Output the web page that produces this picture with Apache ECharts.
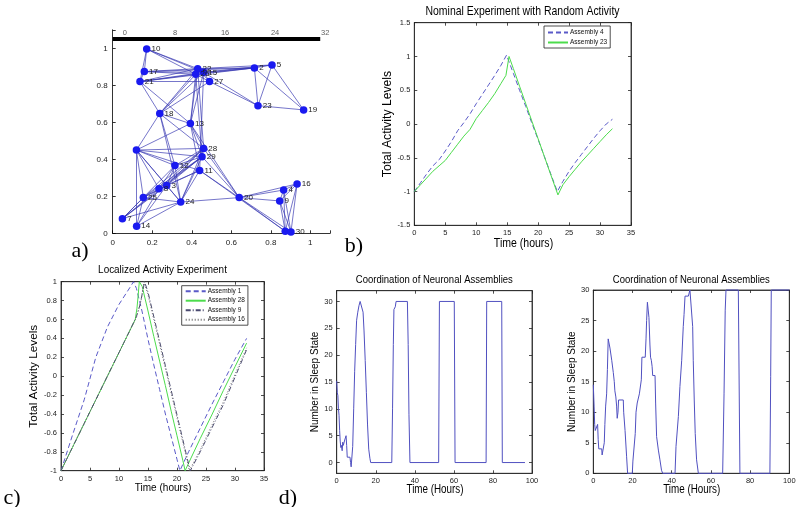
<!DOCTYPE html>
<html><head><meta charset="utf-8">
<script src="https://cdn.jsdelivr.net/npm/echarts@6/dist/echarts.min.js"></script>
<style>html,body{margin:0;padding:0;background:#fff}#c{width:800px;height:507px}</style>
</head><body><div id="c"></div><script>
// ---------- Panel a: network ----------
const nodeIds = ['1','2','3','4','5','6','7','8','9','10','11','12','13','14','15','16','17','18','19','20','21','22','23','24','25','26','27','28','29','30'];
const nodeX = [0.12,0.717,0.273,0.865,0.806,0.873,0.049,0.234,0.845,0.172,0.44,0.315,0.393,0.121,0.46,0.933,0.16,0.238,0.966,0.64,0.138,0.43,0.735,0.344,0.155,0.42,0.49,0.46,0.452,0.902];
const nodeY = [0.45,0.894,0.258,0.234,0.91,0.011,0.079,0.241,0.175,0.996,0.34,0.366,0.593,0.038,0.87,0.267,0.874,0.647,0.667,0.193,0.82,0.89,0.69,0.169,0.193,0.86,0.82,0.459,0.414,0.007];
const hiddenLabels = ['1','6'];
const edgeList = [
 [10,22],[10,26],[10,15],[10,17],[10,21],[17,22],[17,26],[17,15],[17,2],[17,21],
 [21,22],[21,26],[21,15],[21,2],[21,27],[22,2],[15,2],[26,2],[22,5],[15,5],[2,5],
 [2,23],[5,23],[5,19],[2,19],[23,19],[27,23],[22,23],[26,27],[15,27],[22,27],
 [18,22],[18,26],[18,15],[18,27],[18,21],[18,13],[18,12],[18,1],[18,28],[18,24],
 [13,26],[13,22],[13,15],[13,1],[13,28],[13,29],[13,11],[21,13],[26,29],[22,28],[15,11],
 [1,28],[1,29],[1,12],[1,11],[1,25],[1,8],[1,24],[1,3],[1,14],
 [28,29],[28,12],[29,12],[28,3],[29,3],[29,8],[28,8],[11,3],[11,8],[12,8],[12,3],[12,24],
 [28,24],[29,24],[11,24],[29,25],[28,25],[3,25],[8,25],[8,7],[3,7],[12,7],[29,7],[25,7],
 [25,14],[24,14],[24,7],[8,14],[3,14],[25,24],[3,24],
 [28,20],[29,20],[11,20],[13,20],[11,6],[24,20],[20,6],[20,30],[20,4],[20,16],[20,9],
 [4,16],[4,9],[4,6],[4,30],[16,6],[16,30],[16,9],[9,6],[9,30],[6,30]
];
const scaleBarSpan = [0, 1.05];
const scaleBarY = 1.05;
const scaleBarTicks = [0, 8, 16, 24, 32];

// ---------- Panel b ----------
const bAssembly4 = [[0,-1],[1,-0.87],[2,-0.74],[3,-0.62],[4,-0.53],[5,-0.4],[6,-0.26],[7,-0.1],[8,0.02],[9,0.15],[10,0.3],[11,0.44],[12,0.58],[13,0.72],[14,0.87],[14.9,1.02],[16,0.75],[17,0.5],[18,0.26],[19,0.01],[20,-0.23],[21,-0.48],[22,-0.73],[23.1,-1.0],[24,-0.85],[25,-0.7],[26,-0.57],[27,-0.45],[28,-0.33],[29,-0.21],[30,-0.1],[31,0.0],[32,0.07]];
const bAssembly23 = [[0,-1],[1,-0.9],[2,-0.8],[3,-0.7],[4,-0.62],[5,-0.54],[6,-0.42],[7,-0.3],[8,-0.18],[9,-0.08],[10,0.08],[11,0.2],[12,0.32],[13,0.45],[14,0.6],[14.8,0.72],[15.3,1.0],[16,0.82],[17,0.56],[18,0.3],[19,0.04],[20,-0.22],[21,-0.48],[22,-0.74],[23.2,-1.05],[24,-0.9],[25,-0.78],[26,-0.67],[27,-0.56],[28,-0.46],[29,-0.36],[30,-0.26],[31,-0.16],[32,-0.07]];

// ---------- Panel c ----------
const cAssembly1 = [[0,-1],[2,-0.62],[4,-0.25],[6,0.2],[8,0.52],[10,0.76],[12,0.95],[12.5,1.0],[13,0.93],[14,0.68],[15,0.39],[16,0.12],[17,-0.14],[18,-0.4],[19,-0.64],[20,-0.88],[20.5,-1.0],[22,-0.8],[24,-0.55],[26,-0.3],[28,-0.06],[30,0.18],[32,0.4]];
const cAssembly28 = [[0,-1],[2,-0.75],[4,-0.5],[6,-0.25],[8,0.0],[10,0.25],[12,0.5],[12.8,0.6],[13.1,0.72],[13.3,0.85],[13.5,1.0],[14,0.95],[15,0.69],[16,0.42],[17,0.16],[18,-0.1],[19,-0.37],[20,-0.63],[21,-0.89],[21.4,-1.0],[22,-0.92],[24,-0.66],[26,-0.41],[28,-0.15],[30,0.1],[32,0.35]];
const cAssembly9 = [[0,-1],[2,-0.75],[4,-0.5],[6,-0.25],[8,0.0],[10,0.25],[12,0.5],[13,0.63],[13.6,0.75],[14.1,0.9],[14.4,1.0],[15,0.89],[16,0.63],[17,0.37],[18,0.11],[19,-0.15],[20,-0.41],[21,-0.67],[22,-0.93],[22.3,-1.0],[24,-0.8],[26,-0.55],[28,-0.3],[30,-0.01],[32,0.28]];
const cAssembly16 = [[0,-1],[2,-0.75],[4,-0.5],[6,-0.25],[8,0.0],[10,0.25],[12,0.5],[13,0.62],[13.8,0.8],[14.3,1.0],[15,0.86],[16,0.6],[17,0.34],[18,0.08],[19,-0.18],[20,-0.44],[21,-0.7],[22,-0.96],[22.1,-1.0],[24,-0.78],[26,-0.52],[28,-0.27],[30,0.02],[32,0.3]];

// ---------- Panel d ----------
const dLeft = [[0,15.2],[0.3,13],[0.6,12.5],[0.9,10],[1.2,8.8],[1.5,6],[1.8,4],[2.1,2.8],[2.4,3.2],[2.8,2.2],[3.1,3.8],[3.4,3.2],[3.8,3],[4.1,4.2],[4.5,4],[4.8,5],[5.1,3.2],[5.4,1],[6.8,1],[7.1,0],[7.4,-0.8],[7.8,-0.6],[8.2,3],[8.7,10],[9.2,17],[9.7,22],[10.2,26.5],[10.8,28],[11.4,29.2],[12,30],[13,30],[13.5,28],[14,24.5],[14.6,19],[15.2,13],[15.8,7],[16.4,2.5],[17,0.8],[17.4,0],[28.2,0],[28.6,10],[29,22],[29.3,28.5],[30,29],[30.4,30],[36.2,30],[36.6,22],[37,9],[37.5,0],[52.2,0],[52.6,30],[60.2,30],[60.6,0],[76.5,0],[76.8,30],[84.5,30],[84.8,0],[96.4,0]];
const dRight = [[0,14.5],[0.4,11],[0.7,8],[1,7],[2,7],[2.2,8],[2.5,5.5],[2.8,4],[4.3,4],[4.5,3],[5.4,3],[5.6,5],[5.9,8],[6.3,11],[6.8,13],[7.2,17],[7.6,22],[8.5,20.5],[9.4,18.5],[10.2,16.5],[10.7,15],[11,13.5],[11.5,12.5],[11.9,11],[12.2,9],[12.6,10],[12.9,12],[15.3,12],[15.5,10],[16.2,7],[17,2.7],[17.5,0],[19.9,0],[20.2,2],[20.8,2],[21.4,6.5],[21.8,10],[22.4,11.5],[23.5,13],[24.5,15.3],[24.8,19],[26.5,19],[26.9,22],[27.2,25],[27.6,28],[28,28],[28.4,25.5],[28.9,21],[29.2,19],[29.6,18.5],[30,17.5],[30.3,16],[31.5,16],[31.8,11.5],[32.3,6],[33.2,3.8],[34,2.2],[34.8,0.5],[35.4,0],[41.7,0],[42.2,4.4],[43.4,9.3],[44.2,14.2],[45.1,18.5],[45.9,24],[46.3,26],[46.8,29],[48.5,29],[49.3,30],[50.2,30],[50.7,24],[51,18.5],[51.5,12],[52,6.5],[52.7,2.2],[53.6,0],[66,0],[66.7,13],[67.3,26.7],[67.7,30],[74,30],[74.8,0],[90.1,0],[90.5,15.8],[90.8,30],[100,30]];
const dLeftTicks = [0,5,10,15,20,25,30];

// ---------- Texts ----------
const titleB = 'Nominal Experiment with Random Activity';
const titleC = 'Localized Activity Experiment';
const titleD = 'Coordination of Neuronal Assemblies';
const timeHours = 'Time (hours)';
const timeHoursCap = 'Time (Hours)';
const activityName = 'Total Activity Levels';
const sleepName = 'Number in Sleep State';
const panelLetters = ['a)','b)','c)','d)'];

// =====================================================
const REG = "'Liberation Sans', Arial, sans-serif";
const SERIF = "'Liberation Serif', 'DejaVu Serif', serif";
const axisCol = '#222';

function boxAxes(grid, xr, yr, yName, opt) {
  const tick = {show:true, inside:true, length:3, lineStyle:{color:axisCol, width:0.8}};
  const lbl = {fontSize:7.5, fontFamily:REG, color:'#222', margin:4};
  const xs = [
    {gridIndex:grid, type:'value', min:xr[0], max:xr[1], interval:xr[2], position:'bottom',
     axisLine:{show:true, onZero:false, lineStyle:{color:axisCol, width:0.8}}, axisTick:tick, splitLine:{show:false},
     axisLabel:lbl},
    {gridIndex:grid, type:'value', min:xr[0], max:xr[1], interval:xr[2], position:'top',
     axisLine:{show:true, onZero:false, lineStyle:{color:axisCol, width:0.8}}, axisTick:tick, splitLine:{show:false}, axisLabel:{show:false}}
  ];
  const yBase = {gridIndex:grid, type:'value', min:yr[0], max:yr[1], position:'left',
     axisLine:{show:true, onZero:false, lineStyle:{color:axisCol, width:0.8}}, splitLine:{show:false},
     axisTick:Object.assign({}, tick), axisLabel:Object.assign({}, lbl),
     name:yName, nameLocation:'middle', nameGap:opt.yGap, nameRotate:90,
     nameTextStyle:{fontSize:opt.yFs, fontFamily:REG, color:'#000'}};
  const yMirror = {gridIndex:grid, type:'value', min:yr[0], max:yr[1], position:'right',
     axisLine:{show:true, onZero:false, lineStyle:{color:axisCol, width:0.8}}, splitLine:{show:false},
     axisTick:Object.assign({}, tick), axisLabel:{show:false}};
  if (yr[2] != null) { yBase.interval = yr[2]; yMirror.interval = yr[2]; }
  if (opt.yCustom) {
    yBase.axisTick.customValues = opt.yCustom; yBase.axisLabel.customValues = opt.yCustom;
    yMirror.axisTick.customValues = opt.yCustom; yMirror.axisLabel = {show:false, customValues:opt.yCustom};
  }
  return {xs, ys:[yBase, yMirror]};
}

const grids = [
  {left:112.7, top:29.8, width:217.4, height:203.5, show:false},
  {left:414.3, top:22.7, width:216.7, height:202.6, show:true, borderColor:axisCol, borderWidth:0.8},
  {left:61, top:281.7, width:203, height:189, show:true, borderColor:axisCol, borderWidth:0.8},
  {left:336.7, top:290.7, width:195.3, height:182.6, show:true, borderColor:axisCol, borderWidth:0.8},
  {left:593.3, top:290, width:196, height:183.3, show:true, borderColor:axisCol, borderWidth:0.8}
];

const aTick = {show:true, inside:true, length:3, lineStyle:{color:'#000', width:0.8}};
const aLbl = {fontSize:8, fontFamily:REG, color:'#222', margin:5,
  formatter: v => v > 1.05 ? '' : String(Math.round(v*10)/10)};
const xAxes = [
  {gridIndex:0, type:'value', min:0, max:1.1, interval:0.2, axisLine:{show:true, onZero:false, lineStyle:{color:'#000', width:0.8}}, axisTick:aTick, axisLabel:aLbl, splitLine:{show:false}}
];
const yAxes = [
  {gridIndex:0, type:'value', min:0, max:1.1, interval:0.2, axisLine:{show:true, onZero:false, lineStyle:{color:'#000', width:0.8}}, axisTick:aTick, axisLabel:aLbl, splitLine:{show:false}}
];
const B = boxAxes(1, [0,35,5], [-1.5,1.5,0.5], activityName, {yGap:17, yFs:12.2});
const C = boxAxes(2, [0,35,5], [-1,1,0.2], activityName, {yGap:17, yFs:11.8});
const DL = boxAxes(3, [0,100,20], [-2,32,null], sleepName, {yGap:14, yFs:10, yCustom:dLeftTicks});
const DR = boxAxes(4, [0,100,20], [0,30,5], sleepName, {yGap:11, yFs:10});
[B,C,DL,DR].forEach(p => { xAxes.push(...p.xs); yAxes.push(...p.ys); });

const graphNodes = nodeIds.map((id,i) => ({
  name:id, value:[nodeX[i], nodeY[i]],
  label:{show: hiddenLabels.indexOf(id) < 0}
}));
const graphLinks = edgeList.map(e => ({source:String(e[0]), target:String(e[1])}));
const barLabelData = scaleBarTicks.map(t => ({
  value:[0.062 + t/32*1.013, scaleBarY + 0.032], label:{formatter:String(t)}
}));

function line(name, data, xi, yi, color, type, width) {
  return {type:'line', name, data, xAxisIndex:xi, yAxisIndex:yi, symbol:'none', showSymbol:false,
    lineStyle:{color, type, width:width||1}, itemStyle:{color}, animation:false, z:3};
}
function txt(x, y, text, fs, sx, font) {
  return {type:'text', x, y, scaleX:sx, style:{text, fontSize:fs, fontFamily:font||REG, fill:'#000', align:'center', verticalAlign:'middle'}};
}
const legendCommon = {orient:'vertical', itemWidth:20, itemHeight:7, icon:undefined,
  borderColor:'#222', borderWidth:0.8, backgroundColor:'#fff',
  itemStyle:{opacity:0, borderWidth:0},
  textStyle:{fontSize:6.5, fontFamily:REG, color:'#111', padding:[0,0,0,-3]}};

const option = {
  animation:false,
  backgroundColor:'#fff',
  grid:grids, xAxis:xAxes, yAxis:yAxes,
  legend:[
    Object.assign({}, legendCommon, {data:['Assembly 4','Assembly 23'], left:544, top:26, itemGap:3, padding:[3,3,2,3]}),
    Object.assign({}, legendCommon, {data:['Assembly 1','Assembly 28','Assembly 9','Assembly 16'], left:181.7, top:285.7, itemGap:2.5, padding:[2,3,2,3]})
  ],
  series:[
    {type:'graph', coordinateSystem:'cartesian2d', xAxisIndex:0, yAxisIndex:0, layout:'none',
     symbol:'circle', symbolSize:7.5, itemStyle:{color:'#1a1af0'},
     label:{show:true, position:'right', distance:1, fontSize:8, fontFamily:REG, color:'#222', formatter:'{b}'},
     lineStyle:{color:'#3434b0', width:0.8, opacity:0.85, curveness:0},
     data:graphNodes, links:graphLinks, silent:true, z:3},
    {type:'line', data:[[scaleBarSpan[0],scaleBarY],[scaleBarSpan[1],scaleBarY]], xAxisIndex:0, yAxisIndex:0,
     symbol:'none', lineStyle:{color:'#000', width:4}, clip:false, z:2},
    {type:'scatter', data:barLabelData, xAxisIndex:0, yAxisIndex:0, symbolSize:0.1, clip:false,
     label:{show:true, position:'inside', fontSize:7.5, fontFamily:REG, color:'#333'}},
    line('Assembly 4', bAssembly4, 1, 1, '#5a5ac8', [5,3], 1),
    line('Assembly 23', bAssembly23, 1, 1, '#4cdc4c', 'solid', 1),
    line('Assembly 1', cAssembly1, 3, 3, '#5a5ac8', [5,3], 1),
    line('Assembly 28', cAssembly28, 3, 3, '#4cdc4c', 'solid', 1),
    line('Assembly 9', cAssembly9, 3, 3, '#4a4a70', [5,2,1,2], 1),
    line('Assembly 16', cAssembly16, 3, 3, '#707070', [1,2], 1),
    Object.assign(line('dLeft', dLeft, 5, 5, '#5050c0', 'solid', 1), {clip:true}),
    Object.assign(line('dRight', dRight, 7, 7, '#5050c0', 'solid', 1), {clip:false})
  ],
  graphic:[
    txt(522.5, 12, titleB, 12.6, 0.83),
    txt(162.5, 270, titleC, 11, 0.9),
    txt(434.3, 280, titleD, 11.2, 0.85),
    txt(691.3, 280, titleD, 11.2, 0.85),
    txt(523.5, 243, timeHours, 13, 0.81),
    txt(163, 488, timeHours, 11.8, 0.85),
    txt(435, 490, timeHoursCap, 12, 0.82),
    txt(691.7, 490, timeHoursCap, 12, 0.82),
    txt(80, 251, panelLetters[0], 22, 1, SERIF),
    txt(354, 246, panelLetters[1], 22, 1, SERIF),
    txt(12, 498, panelLetters[2], 22, 1, SERIF),
    txt(288, 498, panelLetters[3], 22, 1, SERIF)
  ]
};
const chart = echarts.init(document.getElementById('c'), null, {renderer:'canvas'});
chart.setOption(option);
</script></body></html>
